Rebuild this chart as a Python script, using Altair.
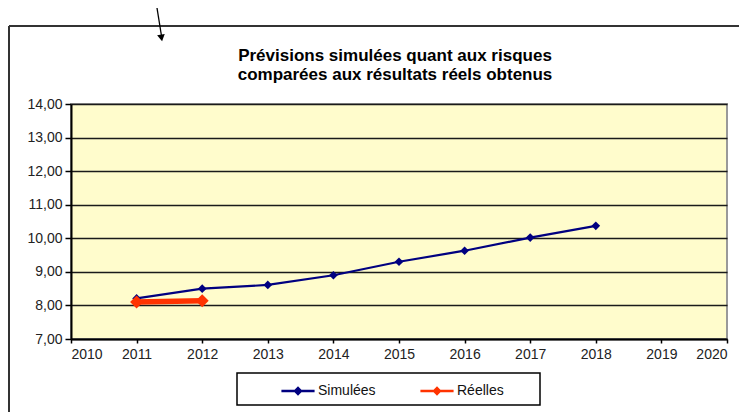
import altair as alt
import pandas as pd

years_sim = [2011, 2012, 2013, 2014, 2015, 2016, 2017, 2018]
vals_sim = [8.21, 8.50, 8.61, 8.90, 9.30, 9.63, 10.02, 10.37]
years_reel = [2011, 2012]
vals_reel = [8.10, 8.14]
series = ["Simulées", "Réelles"]
colors = ["#000080", "#FF3300"]
title_lines = ["Prévisions simulées quant aux risques", "comparées aux résultats réels obtenus"]

df_sim = pd.DataFrame({"annee": years_sim, "valeur": vals_sim, "serie": series[0]})
df_reel = pd.DataFrame({"annee": years_reel, "valeur": vals_reel, "serie": series[1]})

FONT = "Liberation Sans"
W, H = 656, 235

x = alt.X("annee:Q", scale=alt.Scale(domain=[2010, 2020], nice=False),
          axis=alt.Axis(title=None, values=list(range(2010, 2021)), format="d",
                        labelFont=FONT, labelFontSize=14, labelColor="#222",
                        domainColor="black", domainWidth=2, tickColor="black",
                        tickSize=4, tickWidth=1.5, grid=False, labelPadding=4))
y = alt.Y("valeur:Q", scale=alt.Scale(domain=[7, 14], nice=False, zero=False),
          axis=alt.Axis(title=None, values=list(range(7, 15)),
                        labelExpr="replace(format(datum.value, '.2f'), '.', ',')",
                        labelFont=FONT, labelFontSize=14, labelColor="#222",
                        domainColor="black", domainWidth=2, tickColor="black",
                        tickSize=6, tickWidth=1.5, grid=True, gridColor="#1a1a1a",
                        gridWidth=1.5, labelPadding=3))

legend_path = "M-1,-0.07L1,-0.07L1,0.07L-1,0.07Z M0,-0.28L0.28,0L0,0.28L-0.28,0Z"
color = alt.Color("serie:N", scale=alt.Scale(domain=series, range=colors),
                  legend=alt.Legend(title=None, orient="none", legendX=210, legendY=270,
                                    direction="horizontal", columns=2,
                                    symbolType=legend_path, symbolSize=1100,
                                    symbolStrokeWidth=0, symbolOpacity=1, labelFont=FONT,
                                    labelFontSize=14, labelColor="#111",
                                    labelOffset=3, columnPadding=44, padding=0))

line_sim = alt.Chart(df_sim).mark_line(color=colors[0], strokeWidth=2.2).encode(x=x, y=y)
line_reel = alt.Chart(df_reel).mark_line(color=colors[1], strokeWidth=5.5).encode(x=x, y=y)
pts_sim = alt.Chart(df_sim).mark_point(filled=True, shape="diamond", opacity=1, size=75).encode(
    x=x, y=y, color=color)
pts_reel = alt.Chart(df_reel).mark_point(filled=True, shape="diamond", opacity=1, size=170).encode(
    x=x, y=y, color=color)

# title as text
title_txt = alt.Chart().mark_text(text=title_lines, font=FONT, fontSize=17, fontWeight="bold",
                                  color="black", align="center", baseline="alphabetic",
                                  lineHeight=19).encode(
    x=alt.value(W / 2 - 4), y=alt.value(-43))

# decorative frame, legend box and arrow (page furniture, not data)
frame_top = alt.Chart().mark_rule(color="#333", strokeWidth=2).encode(
    x=alt.value(-62), x2=alt.value(W + 30), y=alt.value(-78))
frame_left = alt.Chart().mark_rule(color="#333", strokeWidth=2).encode(
    x=alt.value(-62), y=alt.value(-78), y2=alt.value(H + 80))
legend_box = alt.Chart().mark_rect(fill=None, stroke="black", strokeWidth=1.5).encode(
    x=alt.value(166), x2=alt.value(469), y=alt.value(269), y2=alt.value(301))
arrow_line = alt.Chart().mark_rule(color="black", strokeWidth=1.3).encode(
    x=alt.value(86), x2=alt.value(90.5), y=alt.value(-96), y2=alt.value(-68))
arrow_head = alt.Chart().mark_point(shape="triangle-down", filled=True, color="black",
                                    size=60, angle=350, opacity=1).encode(
    x=alt.value(90.5), y=alt.value(-66))

chart = alt.layer(frame_top, frame_left, arrow_line, arrow_head, title_txt,
                  line_sim, line_reel, pts_sim, pts_reel, legend_box).properties(
    width=W, height=H,
    autosize=alt.AutoSizeParams(type="none"),
    padding={"left": 63, "top": 96, "right": 12, "bottom": 73},
    background="white",
).configure_view(fill="#FFFCCC", stroke="#999", strokeWidth=2)

chart.save("out.html", embed_options={"renderer": "svg", "actions": False})
